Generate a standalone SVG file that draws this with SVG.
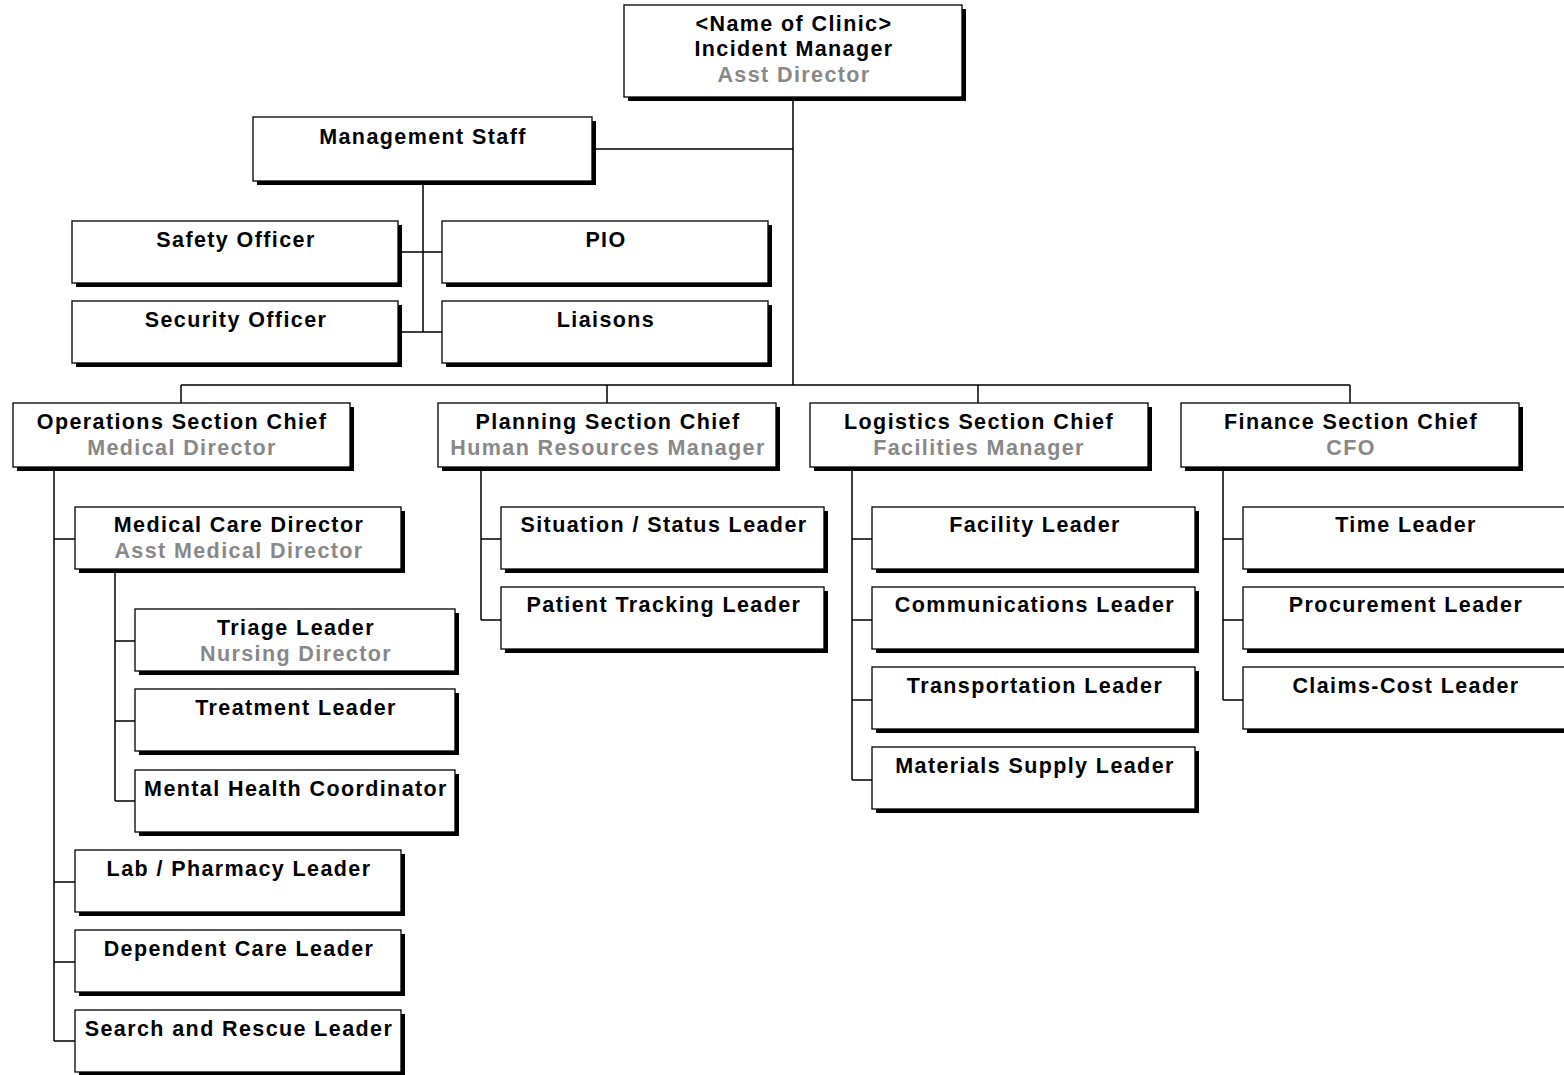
<svg xmlns="http://www.w3.org/2000/svg" width="1564" height="1075" viewBox="0 0 1564 1075">
<style>
.sh{fill:#000}
.bx{fill:#fff;stroke:#000;stroke-width:1.3}
.t{font-family:"Liberation Sans",Arial,sans-serif;font-weight:bold;font-size:21.5px;letter-spacing:1.4px;text-anchor:middle;fill:#000}
.g{fill:#888}
.c{stroke:#000;stroke-width:1.5;fill:none}
</style>
<rect width="1564" height="1075" fill="#fff"/>
<g id="connectors">
<path class="c" d="M793 97V385M592 149H793M423 181V332M398 252H442M398 332H442M181 385H1350M181 385V403M607 385V403M978 385V403M1350 385V403"/>
<path class="c" d="M54 467V1041M54 539H75M54 882H75M54 962H75M54 1041H75M115 569V801M115 641H135M115 721H135M115 801H135"/>
<path class="c" d="M481 467V620M481 539H501M481 620H501M852 467V780M852 539H872M852 620H872M852 700H872M852 780H872M1223 467V700M1223 539H1243M1223 620H1243M1223 700H1243"/>
</g>
<g id="n-im"><rect class="sh" x="628" y="9" width="338" height="92"/><rect class="bx" x="624" y="5" width="338" height="92"/><text class="t" x="794" y="31">&lt;Name of Clinic&gt;</text><text class="t" x="794" y="56">Incident Manager</text><text class="t g" x="794" y="82">Asst Director</text></g>
<g id="n-mgmt"><rect class="sh" x="257" y="121" width="339" height="64"/><rect class="bx" x="253" y="117" width="339" height="64"/><text class="t" x="423" y="144">Management Staff</text></g>
<g id="n-safety"><rect class="sh" x="76" y="225" width="326" height="62"/><rect class="bx" x="72" y="221" width="326" height="62"/><text class="t" x="236" y="247">Safety Officer</text></g>
<g id="n-pio"><rect class="sh" x="446" y="225" width="326" height="62"/><rect class="bx" x="442" y="221" width="326" height="62"/><text class="t" x="606" y="247">PIO</text></g>
<g id="n-security"><rect class="sh" x="76" y="305" width="326" height="62"/><rect class="bx" x="72" y="301" width="326" height="62"/><text class="t" x="236" y="327">Security Officer</text></g>
<g id="n-liaisons"><rect class="sh" x="446" y="305" width="326" height="62"/><rect class="bx" x="442" y="301" width="326" height="62"/><text class="t" x="606" y="327">Liaisons</text></g>
<g id="n-ops"><rect class="sh" x="17" y="407" width="337" height="64"/><rect class="bx" x="13" y="403" width="337" height="64"/><text class="t" x="182" y="429">Operations Section Chief</text><text class="t g" x="182" y="455">Medical Director</text></g>
<g id="n-plan"><rect class="sh" x="442" y="407" width="338" height="64"/><rect class="bx" x="438" y="403" width="338" height="64"/><text class="t" x="608" y="429">Planning Section Chief</text><text class="t g" x="608" y="455">Human Resources Manager</text></g>
<g id="n-log"><rect class="sh" x="814" y="407" width="338" height="64"/><rect class="bx" x="810" y="403" width="338" height="64"/><text class="t" x="979" y="429">Logistics Section Chief</text><text class="t g" x="979" y="455">Facilities Manager</text></g>
<g id="n-fin"><rect class="sh" x="1185" y="407" width="338" height="64"/><rect class="bx" x="1181" y="403" width="338" height="64"/><text class="t" x="1351" y="429">Finance Section Chief</text><text class="t g" x="1351" y="455">CFO</text></g>
<g id="n-medcare"><rect class="sh" x="79" y="511" width="326" height="62"/><rect class="bx" x="75" y="507" width="326" height="62"/><text class="t" x="239" y="532">Medical Care Director</text><text class="t g" x="239" y="558">Asst Medical Director</text></g>
<g id="n-triage"><rect class="sh" x="139" y="613" width="320" height="62"/><rect class="bx" x="135" y="609" width="320" height="62"/><text class="t" x="296" y="635">Triage Leader</text><text class="t g" x="296" y="661">Nursing Director</text></g>
<g id="n-treatment"><rect class="sh" x="139" y="693" width="320" height="62"/><rect class="bx" x="135" y="689" width="320" height="62"/><text class="t" x="296" y="715">Treatment Leader</text></g>
<g id="n-mental"><rect class="sh" x="139" y="774" width="320" height="62"/><rect class="bx" x="135" y="770" width="320" height="62"/><text class="t" x="296" y="796">Mental Health Coordinator</text></g>
<g id="n-lab"><rect class="sh" x="79" y="854" width="326" height="62"/><rect class="bx" x="75" y="850" width="326" height="62"/><text class="t" x="239" y="876">Lab / Pharmacy Leader</text></g>
<g id="n-dependent"><rect class="sh" x="79" y="934" width="326" height="62"/><rect class="bx" x="75" y="930" width="326" height="62"/><text class="t" x="239" y="956">Dependent Care Leader</text></g>
<g id="n-search"><rect class="sh" x="79" y="1014" width="326" height="62"/><rect class="bx" x="75" y="1010" width="326" height="62"/><text class="t" x="239" y="1036">Search and Rescue Leader</text></g>
<g id="n-situation"><rect class="sh" x="505" y="511" width="323" height="62"/><rect class="bx" x="501" y="507" width="323" height="62"/><text class="t" x="664" y="532">Situation / Status Leader</text></g>
<g id="n-patient"><rect class="sh" x="505" y="591" width="323" height="62"/><rect class="bx" x="501" y="587" width="323" height="62"/><text class="t" x="664" y="612">Patient Tracking Leader</text></g>
<g id="n-facility"><rect class="sh" x="876" y="511" width="323" height="62"/><rect class="bx" x="872" y="507" width="323" height="62"/><text class="t" x="1035" y="532">Facility Leader</text></g>
<g id="n-comm"><rect class="sh" x="876" y="591" width="323" height="62"/><rect class="bx" x="872" y="587" width="323" height="62"/><text class="t" x="1035" y="612">Communications Leader</text></g>
<g id="n-transport"><rect class="sh" x="876" y="671" width="323" height="62"/><rect class="bx" x="872" y="667" width="323" height="62"/><text class="t" x="1035" y="693">Transportation Leader</text></g>
<g id="n-materials"><rect class="sh" x="876" y="751" width="323" height="62"/><rect class="bx" x="872" y="747" width="323" height="62"/><text class="t" x="1035" y="773">Materials Supply Leader</text></g>
<g id="n-time"><rect class="sh" x="1247" y="511" width="325" height="62"/><rect class="bx" x="1243" y="507" width="325" height="62"/><text class="t" x="1406" y="532">Time Leader</text></g>
<g id="n-procure"><rect class="sh" x="1247" y="591" width="325" height="62"/><rect class="bx" x="1243" y="587" width="325" height="62"/><text class="t" x="1406" y="612">Procurement Leader</text></g>
<g id="n-claims"><rect class="sh" x="1247" y="671" width="325" height="62"/><rect class="bx" x="1243" y="667" width="325" height="62"/><text class="t" x="1406" y="693">Claims-Cost Leader</text></g>
</svg>
